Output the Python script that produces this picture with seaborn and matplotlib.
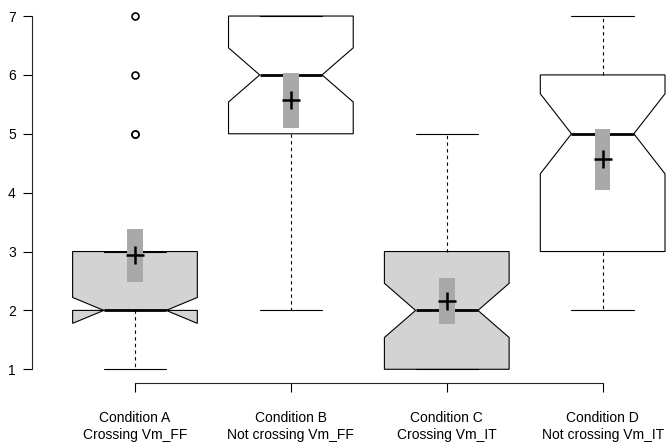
import matplotlib
matplotlib.use("Agg")
import matplotlib.pyplot as plt
import seaborn as sns
import pandas as pd

# Condition labels (two lines each)
conditions = ["Condition A\nCrossing Vm_FF", "Condition B\nNot crossing Vm_FF",
              "Condition C\nCrossing Vm_IT", "Condition D\nNot crossing Vm_IT"]

# Box summary statistics per condition
whisker_low = [1, 2, 1, 2]
q1 = [2, 5, 1, 3]
median = [2, 6, 2, 5]
q3 = [3, 7, 3, 6]
whisker_high = [3, 7, 5, 7]
notch_low = [1.78, 5.54, 1.54, 4.32]
notch_high = [2.22, 6.46, 2.46, 5.68]
outliers = [[5, 5, 6, 7], [], [], []]

# Means with their confidence intervals
means = [2.94, 5.57, 2.16, 4.57]
ci_low = [2.48, 5.10, 1.77, 4.05]
ci_high = [3.38, 6.03, 2.55, 5.08]

box_fill = ["#D3D3D3", "white", "#D3D3D3", "white"]

sns.set_style("ticks")
plt.rcParams["font.family"] = ["Liberation Sans", "DejaVu Sans"]

fig = plt.figure(figsize=(6.7, 4.43), dpi=100)
ax = fig.add_axes([0.0479, 0.1345, 1 - 0.0479, 0.9957 - 0.1345])

positions = [1, 2, 3, 4]
stats = []
for i in range(4):
    stats.append(dict(whislo=whisker_low[i], q1=q1[i], med=median[i], q3=q3[i],
                      whishi=whisker_high[i], cilo=notch_low[i], cihi=notch_high[i],
                      fliers=outliers[i], label=conditions[i]))

bp = ax.bxp(stats, positions=positions, widths=0.8, capwidths=0.4, shownotches=True,
            patch_artist=True, showfliers=True,
            boxprops=dict(edgecolor="black", linewidth=0.8),
            medianprops=dict(color="black", linewidth=2.0, solid_capstyle="butt"),
            whiskerprops=dict(color="black", linewidth=0.8, linestyle=(0, (3, 3))),
            capprops=dict(color="black", linewidth=0.8),
            flierprops=dict(marker="o", markerfacecolor="white", markeredgecolor="black",
                            markersize=5, markeredgewidth=1.2, linestyle="none"))
for patch, fc in zip(bp["boxes"], box_fill):
    patch.set_facecolor(fc)

# Confidence interval bars for the means
ci_height = [h - l for h, l in zip(ci_high, ci_low)]
ax.bar(positions, ci_height, bottom=ci_low, width=0.1, color="#A9A9A9",
       edgecolor="none", zorder=4)

# Mean markers
mean_df = pd.DataFrame({"pos": positions, "mean": means})
sns.scatterplot(data=mean_df, x="pos", y="mean", marker="+", s=170, color="black",
                linewidth=1.8, zorder=5, ax=ax, legend=False)

ax.set_xlim(0.34, 4.432)
ax.set_ylim(0.76, 7.24)
ax.set_xticks(positions)
ax.set_xticklabels(conditions, fontsize=10, linespacing=1.3)
ax.set_yticks([1, 2, 3, 4, 5, 6, 7])
ax.set_yticklabels([str(v) for v in range(1, 8)], fontsize=10)
ax.set_xlabel("")
ax.set_ylabel("")
for side in ("top", "right"):
    ax.spines[side].set_visible(False)
ax.spines["left"].set_bounds(1, 7)
ax.spines["bottom"].set_bounds(1, 4)
ax.spines["left"].set_linewidth(0.8)
ax.spines["bottom"].set_linewidth(0.8)
ax.tick_params(axis="both", length=6.8, width=0.8, color="black", labelcolor="black")
ax.tick_params(axis="y", pad=5)
ax.tick_params(axis="x", pad=13)
ax.patch.set_alpha(0)

fig.savefig("out.png", dpi=100)
